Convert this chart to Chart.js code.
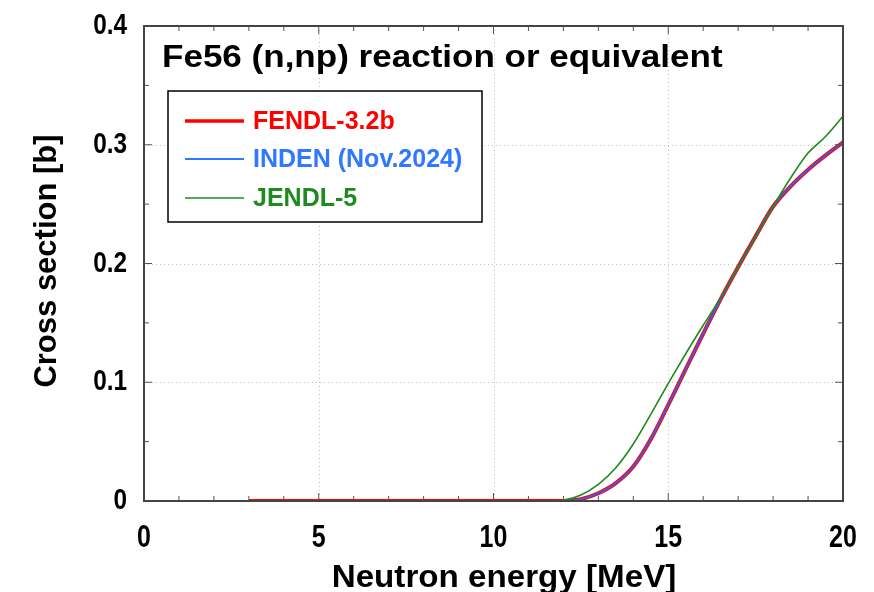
<!DOCTYPE html>
<html>
<head>
<meta charset="utf-8">
<script src="https://cdn.jsdelivr.net/npm/chart.js@4.4.1/dist/chart.umd.min.js"></script>
<style>
  html, body { margin: 0; padding: 0; background: #fff; }
  #wrap { width: 874px; height: 592px; }
</style>
</head>
<body>
<div id="wrap"><canvas id="xs" width="874" height="592"></canvas></div>
<script>
// Fe56 (n,np) cross section
const titleText = 'Fe56 (n,np) reaction or equivalent';
const xTitle = 'Neutron energy [MeV]';
const yTitle = 'Cross section [b]';
const seriesNames = ['FENDL-3.2b', 'INDEN (Nov.2024)', 'JENDL-5'];
const seriesColors = ['#ff0000', '#2f78ff', '#1f8a1f'];

const energyFendl = [3, 4, 5, 6, 7, 8, 9, 10, 11, 11.5, 12, 12.5, 13, 13.5, 14, 14.5, 15, 15.5, 16, 16.5, 17, 17.5, 18, 18.5, 19, 19.5, 20];
const xsFendl =     [0, 0, 0, 0, 0, 0, 0, 0, 0, 0, 0, 0.0015, 0.0065, 0.015, 0.029, 0.052, 0.081, 0.111, 0.141, 0.170, 0.197, 0.223, 0.248, 0.265, 0.279, 0.291, 0.302];

const energyInden = [3, 4, 5, 6, 7, 8, 9, 10, 11, 11.5, 12, 12.5, 13, 13.5, 14, 14.5, 15, 15.5, 16, 16.5, 17, 17.5, 18, 18.5, 19, 19.5, 20];
const xsInden =     [0, 0, 0, 0, 0, 0, 0, 0, 0, 0, 0, 0.0015, 0.0065, 0.015, 0.029, 0.052, 0.081, 0.111, 0.141, 0.170, 0.197, 0.223, 0.248, 0.265, 0.279, 0.291, 0.302];

const energyJendl = [10.5, 11, 11.5, 12, 12.5, 13, 13.5, 14, 14.5, 15, 15.5, 16, 16.5, 17, 17.5, 18, 18.5, 19, 19.5, 20];
const xsJendl =     [0, 0, 0, 0.0005, 0.005, 0.014, 0.028, 0.048, 0.073, 0.099, 0.124, 0.148, 0.171, 0.197, 0.223, 0.248, 0.272, 0.293, 0.307, 0.324];

const xTicks = [0, 5, 10, 15, 20];
const yTicks = [0, 0.1, 0.2, 0.3, 0.4];
const yTickLabels = ['0', '0.1', '0.2', '0.3', '0.4'];

const FONT = "'Liberation Sans', Arial, Helvetica, sans-serif";

function pts(xs, ys) {
  return xs.map((x, i) => ({ x: x, y: ys[i] }));
}

// text drawn with a horizontal stretch/squeeze, like the original figure
function stretchedText(ctx, text, x, y, sx) {
  ctx.save();
  ctx.translate(x, y);
  ctx.scale(sx, 1);
  ctx.fillText(text, 0, 0);
  ctx.restore();
}

// frame, dotted grid, inward ticks, tick labels, titles and legend
const framePlugin = {
  id: 'frame',
  beforeDatasetsDraw(chart) {
    const { ctx, chartArea: a, scales: { x, y } } = chart;
    ctx.save();
    ctx.strokeStyle = '#c0c0c0';
    ctx.lineWidth = 1;
    ctx.setLineDash([1, 3]);
    xTicks.slice(1, -1).forEach(v => {
      const px = Math.round(x.getPixelForValue(v)) + 0.5;
      ctx.beginPath(); ctx.moveTo(px, a.top); ctx.lineTo(px, a.bottom); ctx.stroke();
    });
    yTicks.slice(1, -1).forEach(v => {
      const py = Math.round(y.getPixelForValue(v)) + 0.5;
      ctx.beginPath(); ctx.moveTo(a.left, py); ctx.lineTo(a.right, py); ctx.stroke();
    });
    ctx.restore();
  },
  afterDatasetsDraw(chart) {
    const { ctx, chartArea: a, scales: { x, y } } = chart;
    ctx.save();
    ctx.strokeStyle = '#555';
    ctx.lineWidth = 1;
    for (let v = 1; v < 20; v++) {
      const px = x.getPixelForValue(v);
      const len = v % 5 === 0 ? 8 : 5;
      ctx.beginPath();
      ctx.moveTo(px, a.bottom); ctx.lineTo(px, a.bottom - len);
      ctx.moveTo(px, a.top); ctx.lineTo(px, a.top + len);
      ctx.stroke();
    }
    for (let k = 1; k < 8; k++) {
      const py = y.getPixelForValue(k * 0.05);
      const len = k % 2 === 0 ? 8 : 5;
      ctx.beginPath();
      ctx.moveTo(a.left, py); ctx.lineTo(a.left + len, py);
      ctx.moveTo(a.right, py); ctx.lineTo(a.right - len, py);
      ctx.stroke();
    }
    ctx.strokeStyle = '#444';
    ctx.lineWidth = 2;
    ctx.strokeRect(a.left, a.top, a.right - a.left, a.bottom - a.top);

    // tick labels (narrow bold digits)
    ctx.fillStyle = '#000';
    ctx.textBaseline = 'alphabetic';
    ctx.font = 'bold 32px ' + FONT;
    ctx.textAlign = 'center';
    xTicks.forEach(v => stretchedText(ctx, String(v), x.getPixelForValue(v), 547, 0.78));
    ctx.font = 'bold 29px ' + FONT;
    ctx.textAlign = 'right';
    yTicks.forEach((v, i) => stretchedText(ctx, yTickLabels[i], 127, y.getPixelForValue(v) + 8, 0.84));

    // title inside the plot
    ctx.font = 'bold 31px ' + FONT;
    ctx.textAlign = 'left';
    stretchedText(ctx, titleText, 162, 67, 1.13);

    // axis titles
    ctx.font = 'bold 31px ' + FONT;
    ctx.textAlign = 'center';
    stretchedText(ctx, xTitle, 504, 587, 1.07);
    ctx.save();
    ctx.translate(47, 261);
    ctx.rotate(-Math.PI / 2);
    ctx.textBaseline = 'middle';
    ctx.fillText(yTitle, 0, 0);
    ctx.restore();

    // legend box
    ctx.fillStyle = '#fff';
    ctx.fillRect(168, 91, 314, 131);
    ctx.strokeStyle = '#000';
    ctx.lineWidth = 1.5;
    ctx.strokeRect(168, 91, 314, 131);
    const rows = [121, 159, 198];
    const widths = [3.5, 2, 1.5];
    ctx.font = 'bold 25px ' + FONT;
    ctx.textAlign = 'left';
    ctx.textBaseline = 'middle';
    seriesNames.forEach((name, i) => {
      ctx.strokeStyle = seriesColors[i];
      ctx.lineWidth = widths[i];
      ctx.beginPath(); ctx.moveTo(185, rows[i]); ctx.lineTo(244, rows[i]); ctx.stroke();
      ctx.fillStyle = seriesColors[i];
      ctx.fillText(name, 253, rows[i] + 1);
    });
    ctx.restore();
  }
};

new Chart(document.getElementById('xs'), {
  type: 'line',
  data: {
    datasets: [
      { label: seriesNames[0], data: pts(energyFendl, xsFendl), borderColor: seriesColors[0], borderWidth: 4, order: 3 },
      { label: seriesNames[1], data: pts(energyInden, xsInden), borderColor: 'rgba(47,100,255,0.8)', borderWidth: 2.2, order: 2 },
      { label: seriesNames[2], data: pts(energyJendl, xsJendl), borderColor: seriesColors[2], borderWidth: 1.6, order: 1 }
    ]
  },
  options: {
    responsive: false,
    animation: false,
    devicePixelRatio: 1,
    events: [],
    layout: { padding: { left: 0, top: 26, right: 31, bottom: 0 } },
    elements: { point: { radius: 0 }, line: { tension: 0.3 } },
    plugins: { legend: { display: false }, tooltip: { enabled: false } },
    scales: {
      x: {
        type: 'linear', min: 0, max: 20,
        afterFit: s => { s.height = 91; },
        grid: { display: false, drawTicks: false },
        border: { display: false },
        ticks: { display: false }
      },
      y: {
        min: 0, max: 0.4,
        afterFit: s => { s.width = 144; },
        grid: { display: false, drawTicks: false },
        border: { display: false },
        ticks: { display: false }
      }
    }
  },
  plugins: [framePlugin]
});
</script>
</body>
</html>
